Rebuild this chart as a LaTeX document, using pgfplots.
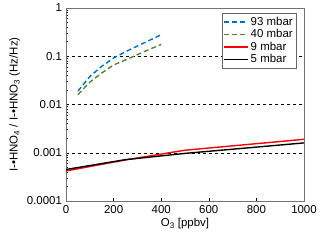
\documentclass[border=0pt]{standalone}
\usepackage{fontspec}
\setmainfont{Liberation Sans}
\usepackage{pgfplots}
\pgfplotsset{compat=1.18}
\definecolor{cblue}{RGB}{0,112,192}
\definecolor{cgreen}{RGB}{84,130,53}
\begin{document}
\fontsize{11.5}{13}\selectfont
\begin{tikzpicture}
\begin{axis}[
  scale only axis, width=238bp, height=193bp,
  ymode=log, xmin=0, xmax=1000, ymin=0.0001, ymax=1,
  xtick={0,200,400,600,800,1000},
  ytick={0.0001,0.001,0.01,0.1,1},
  yticklabels={0.0001,0.001,0.01,0.1,1},
  tick align=inside, tick pos=left,
  major tick length=3pt, minor tick length=2pt,
  every tick/.style={black, line width=0.5pt},
  axis line style={draw=gray!90!black, line width=1pt},
  ymajorgrids, major grid style={black, dashed, line width=0.5pt},
  /pgf/number format/assume math mode=true,
  xticklabel style={font=\fontsize{11.5}{13}\selectfont, /pgf/number format/1000 sep={}},
  yticklabel style={font=\fontsize{11.5}{13}\selectfont},
  xlabel={O\textsubscript{3} [ppbv]},
  ylabel={I-•HNO\textsubscript{4} / I-•HNO\textsubscript{3} (Hz/Hz)},
  xlabel style={yshift=3pt},
  ylabel style={yshift=-1pt},
  legend style={at={(0.654,0.973)}, anchor=north west, draw=gray!80!black, line width=0.8pt,
    font=\fontsize{11.5}{13}\selectfont, inner sep=1.5pt, row sep=-1.5pt,
    cells={anchor=west}},
  legend image post style={xscale=1.4},
]
\addplot[cblue, line width=1.4pt, dash pattern=on 5pt off 3pt] coordinates {
(50,0.019) (100,0.038) (150,0.062) (200,0.092) (250,0.124) (300,0.163) (350,0.213) (400,0.28)};
\addlegendentry{93 mbar}
\addplot[cgreen, line width=1.4pt, dash pattern=on 5pt off 3pt] coordinates {
(50,0.016) (100,0.029) (150,0.045) (200,0.066) (250,0.084) (300,0.108) (350,0.139) (400,0.175)};
\addlegendentry{40 mbar}
\addplot[red, line width=1.4pt] coordinates {
(0,0.00042) (250,0.00071) (500,0.00113) (1000,0.0019)};
\addlegendentry{9 mbar}
\addplot[black, line width=1.4pt] coordinates {
(0,0.00045) (250,0.00072) (500,0.00097) (1000,0.0016)};
\addlegendentry{5 mbar}
\end{axis}
\pgfresetboundingbox
\path[use as bounding box] (current axis.south west) ++(-66bp,-41bp) rectangle ([shift={(16bp,8bp)}]current axis.north east);
\end{tikzpicture}
\end{document}
